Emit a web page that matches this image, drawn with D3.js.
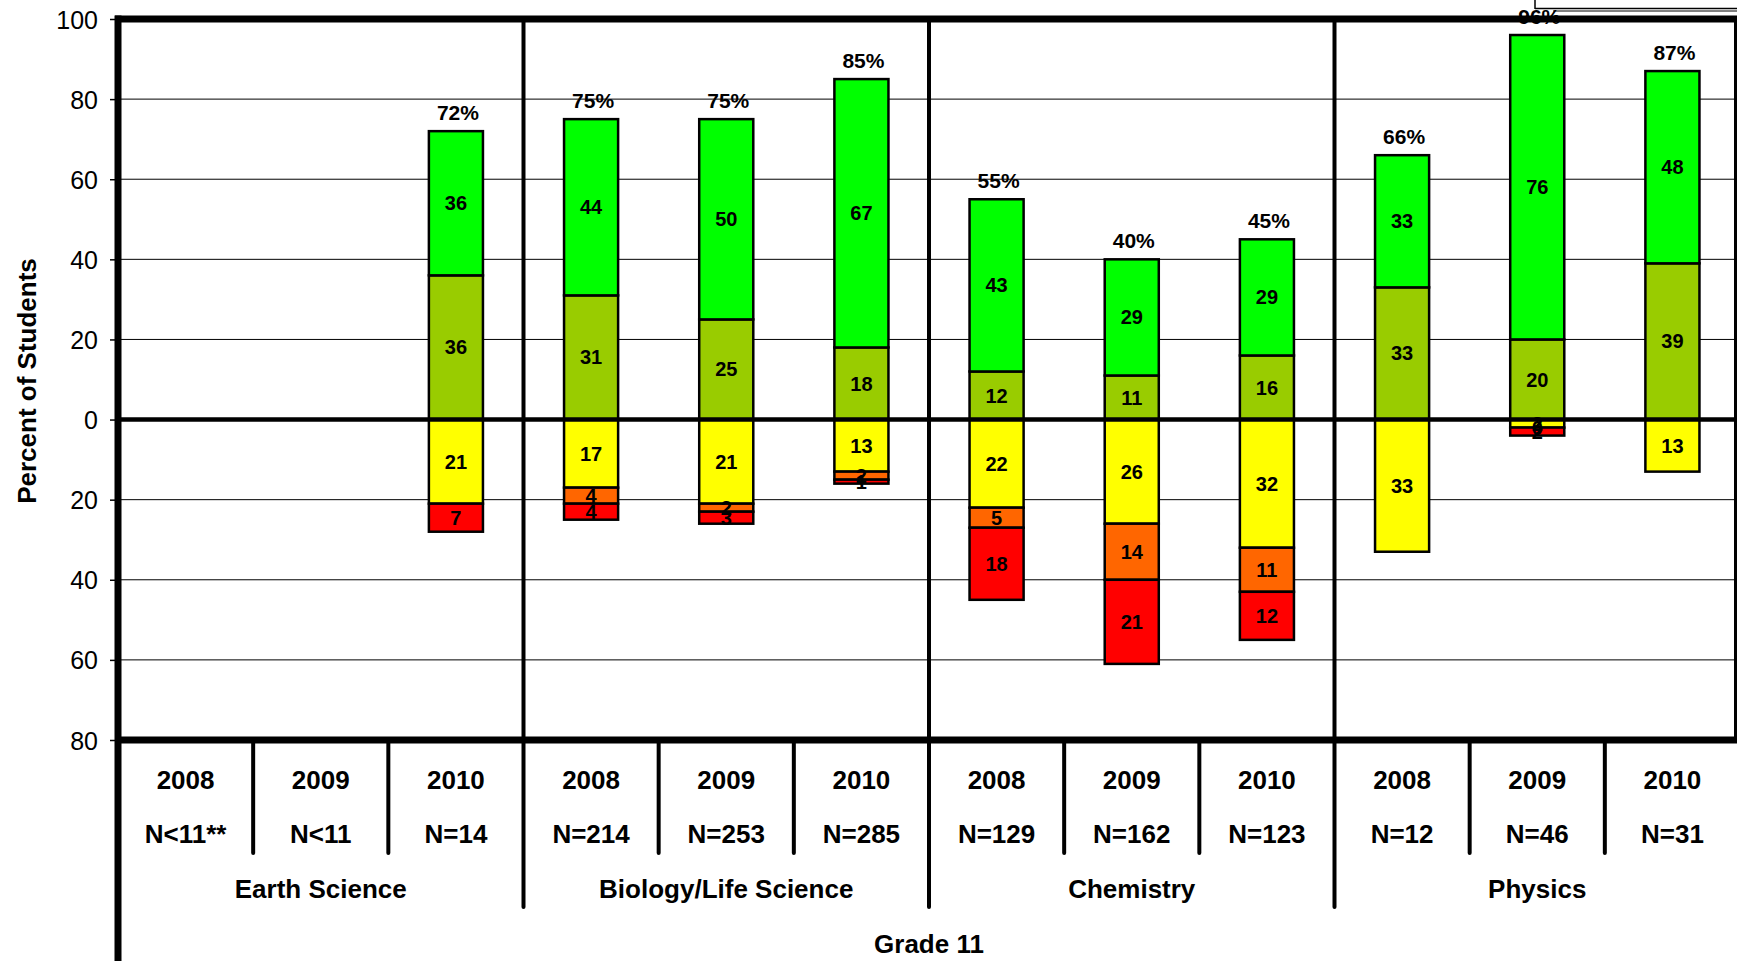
<!DOCTYPE html>
<html>
<head>
<meta charset="utf-8">
<script src="https://cdn.jsdelivr.net/npm/d3@7"></script>
<style>
  html, body { margin: 0; padding: 0; background: #fff; }
  svg { display: block; font-family: "Liberation Sans", Arial, sans-serif; }
</style>
</head>
<body>
<svg id="chart" width="1737" height="961"></svg>
<script>
// ---- data ----
const years = ["2008","2009","2010","2008","2009","2010","2008","2009","2010","2008","2009","2010"];
const nLabels = ["N<11**","N<11","N=14","N=214","N=253","N=285","N=129","N=162","N=123","N=12","N=46","N=31"];
const groupNames = ["Earth Science","Biology/Life Science","Chemistry","Physics"];
const gradeLabel = "Grade 11";
// positive stack (bottom to top): olive, green
const oliveVals  = [null,null,36,31,25,18,12,11,16,33,20,39];
const greenVals  = [null,null,36,44,50,67,43,29,29,33,76,48];
// negative stack (from zero downward): yellow, orange, red
const yellowVals = [null,null,21,17,21,13,22,26,32,33,2,13];
const orangeVals = [null,null,null,4,2,2,5,14,11,null,0,null];
const redVals    = [null,null,7,4,3,1,18,21,12,null,2,null];
const topPct     = [null,null,72,75,75,85,55,40,45,66,96,87];
const yTicks = [100,80,60,40,20,0,-20,-40,-60,-80];
const yTitle = "Percent of Students";

const colors = { green:"#00FF00", olive:"#99CC00", yellow:"#FFFF00", orange:"#FF6600", red:"#FF0000" };

// ---- layout ----
const svg = d3.select("#chart");
const plotLeft = 118, plotRight = 1740, plotTop = 19, plotBottom = 740;
const y = d3.scaleLinear().domain([-80, 100]).range([plotBottom, plotTop]);
const idx = d3.range(years.length);
const x = d3.scaleBand().domain(idx).range([plotLeft, plotRight]).paddingInner(0).paddingOuter(0);
const barW = x.bandwidth() * 0.4;
const cx = i => x(i) + x.bandwidth() / 2;

// gridlines
svg.append("g").selectAll("line").data(yTicks.filter(t => t !== 0 && t !== 100 && t !== -80)).join("line")
  .attr("x1", plotLeft).attr("x2", plotRight).attr("y1", d => y(d)).attr("y2", d => y(d))
  .attr("stroke", "#000").attr("stroke-width", 1);

// build segments
const segs = [];
idx.forEach(i => {
  let base = 0;
  [["olive", oliveVals], ["green", greenVals]].forEach(([c, arr]) => {
    const v = arr[i];
    if (v === null) return;
    segs.push({ i, c, v, y0: base, y1: base + v });
    base += v;
  });
  base = 0;
  [["yellow", yellowVals], ["orange", orangeVals], ["red", redVals]].forEach(([c, arr]) => {
    const v = arr[i];
    if (v === null) return;
    segs.push({ i, c, v, y0: base, y1: base - v });
    base -= v;
  });
});

const gBars = svg.append("g");
gBars.selectAll("rect").data(segs.filter(s => s.v > 0)).join("rect")
  .attr("x", d => cx(d.i) - barW / 2)
  .attr("width", barW)
  .attr("y", d => y(Math.max(d.y0, d.y1)))
  .attr("height", d => Math.abs(y(d.y0) - y(d.y1)))
  .attr("fill", d => colors[d.c])
  .attr("stroke", "#000").attr("stroke-width", 2.5);

// segment labels
svg.append("g").selectAll("text").data(segs).join("text")
  .attr("x", d => cx(d.i))
  .attr("y", d => y((d.y0 + d.y1) / 2) + 7)
  .attr("text-anchor", "middle")
  .attr("font-size", 20).attr("font-weight", "bold")
  .text(d => d.v);

// top percentage labels
svg.append("g").selectAll("text").data(idx.filter(i => topPct[i] !== null)).join("text")
  .attr("x", i => cx(i) + 2)
  .attr("y", i => y(topPct[i]) - 11)
  .attr("text-anchor", "middle")
  .attr("font-size", 21).attr("font-weight", "bold")
  .text(i => topPct[i] + "%");

// zero line
svg.append("line").attr("x1", plotLeft).attr("x2", plotRight).attr("y1", y(0)).attr("y2", y(0))
  .attr("stroke", "#000").attr("stroke-width", 4.5);

// frame: top and bottom
svg.append("line").attr("x1", plotLeft - 3).attr("x2", plotRight).attr("y1", y(100)).attr("y2", y(100))
  .attr("stroke", "#000").attr("stroke-width", 7);
svg.append("line").attr("x1", plotLeft - 3).attr("x2", plotRight).attr("y1", y(-80)).attr("y2", y(-80))
  .attr("stroke", "#000").attr("stroke-width", 7);
// right border
svg.append("line").attr("x1", 1735.5).attr("x2", 1735.5).attr("y1", y(100)).attr("y2", y(-80))
  .attr("stroke", "#000").attr("stroke-width", 3);

// group dividers (through plot and down into label area)
const groupEdges = [3, 6, 9].map(k => x(k));
svg.append("g").selectAll("line").data(groupEdges).join("line")
  .attr("x1", d => d).attr("x2", d => d)
  .attr("y1", plotTop).attr("y2", 907)
  .attr("stroke", "#000").attr("stroke-width", 4).attr("stroke-linecap", "round");

// category dividers below axis
const catEdges = idx.filter(i => i % 3 !== 0).map(i => x(i));
svg.append("g").selectAll("line").data(catEdges).join("line")
  .attr("x1", d => d).attr("x2", d => d)
  .attr("y1", plotBottom).attr("y2", 853)
  .attr("stroke", "#000").attr("stroke-width", 4).attr("stroke-linecap", "round");

// left axis
const yAxis = d3.axisLeft(y).tickValues(yTicks).tickFormat(d => Math.abs(d)).tickSize(8).tickPadding(12);
const gAxis = svg.append("g").attr("transform", `translate(${plotLeft},0)`).call(yAxis);
gAxis.select(".domain").remove();
gAxis.selectAll(".tick line").attr("stroke", "#000").attr("stroke-width", 1.5);
gAxis.selectAll(".tick text").attr("font-size", 25).attr("fill", "#000")
  .attr("font-family", "Liberation Sans, Arial, sans-serif").attr("dy", "0.36em");
svg.append("line").attr("x1", plotLeft).attr("x2", plotLeft).attr("y1", plotTop - 3.5).attr("y2", 961)
  .attr("stroke", "#000").attr("stroke-width", 7);

// category labels
svg.append("g").selectAll("text").data(idx).join("text")
  .attr("x", i => cx(i)).attr("y", 789)
  .attr("text-anchor", "middle").attr("font-size", 26).attr("font-weight", "bold")
  .text(i => years[i]);
svg.append("g").selectAll("text").data(idx).join("text")
  .attr("x", i => cx(i)).attr("y", 843)
  .attr("text-anchor", "middle").attr("font-size", 26).attr("font-weight", "bold")
  .text(i => nLabels[i]);
svg.append("g").selectAll("text").data(groupNames).join("text")
  .attr("x", (d, g) => (x(g * 3) + x(g * 3 + 2) + x.bandwidth()) / 2).attr("y", 898)
  .attr("text-anchor", "middle").attr("font-size", 26).attr("font-weight", "bold")
  .text(d => d);
svg.append("text").attr("x", (plotLeft + plotRight) / 2).attr("y", 953)
  .attr("text-anchor", "middle").attr("font-size", 26).attr("font-weight", "bold")
  .text(gradeLabel);

// y title
svg.append("text").attr("transform", `translate(36,381) rotate(-90)`)
  .attr("text-anchor", "middle").attr("font-size", 26).attr("font-weight", "bold")
  .text(yTitle);

// partial box at top right (cut-off legend frame)
svg.append("line").attr("x1", 1535).attr("x2", 1535).attr("y1", 0).attr("y2", 9).attr("stroke", "#000").attr("stroke-width", 1.5);
svg.append("line").attr("x1", 1535).attr("x2", 1737).attr("y1", 8.5).attr("y2", 8.5).attr("stroke", "#000").attr("stroke-width", 1.5);
svg.append("line").attr("x1", 1553).attr("x2", 1737).attr("y1", 11).attr("y2", 11).attr("stroke", "#000").attr("stroke-width", 1);
</script>
</body>
</html>
